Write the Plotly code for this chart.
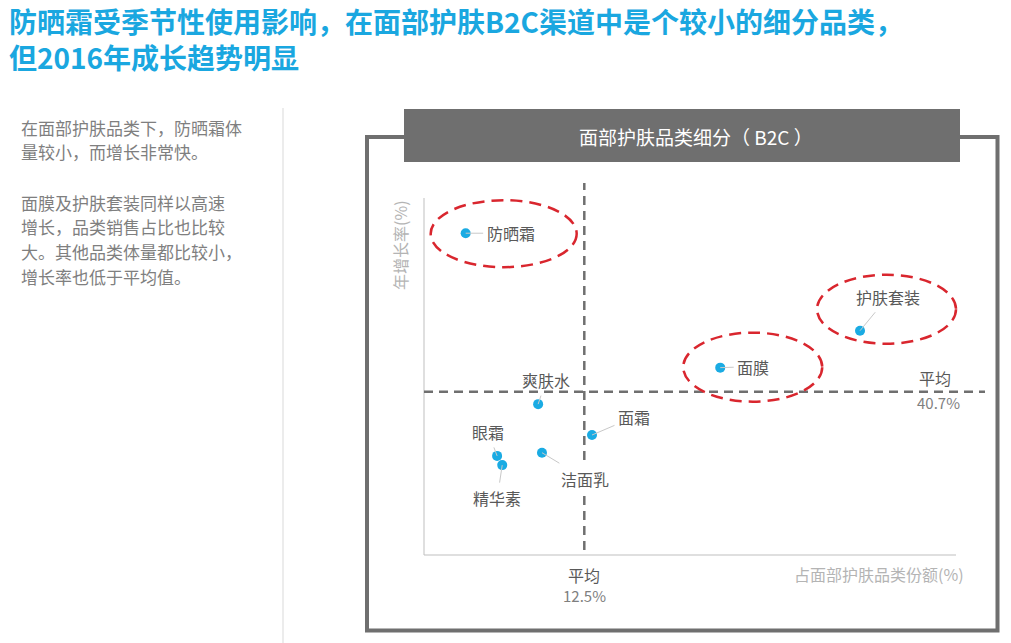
import plotly.graph_objects as go

# categories: share of facial skincare (%) vs annual growth (%)
categories = ['防晒霜', '护肤套装', '面膜', '爽肤水', '面霜', '眼霜', '精华素', '洁面乳']
share = [3.25, 34.0, 23.1, 8.9, 13.1, 5.7, 6.1, 9.2]
growth = [80.2, 55.9, 46.7, 37.6, 29.9, 24.7, 22.4, 25.5]
highlighted = ['防晒霜', '护肤套装', '面膜']

avg_share = 12.5
avg_growth = 40.7

title_lines = ['防晒霜受季节性使用影响，在面部护肤B2C渠道中是个较小的细分品类，',
               '但2016年成长趋势明显']
note_lines = [['在面部护肤品类下，防晒霜体', '量较小，而增长非常快。'],
              ['面膜及护肤套装同样以高速', '增长，品类销售占比也比较',
               '大。其他品类体量都比较小，', '增长率也低于平均值。']]
chart_title = '面部护肤品类细分（ B2C ）'
x_title = '占面部护肤品类份额(%)'
y_title = '年增长率(%)'
avg_label = '平均'

W, H = 1011, 643
L, R, T, B = 424, 990, 180, 555   # plot area in pixels
FONT = 'Noto Sans CJK SC'
CYAN = '#1aa7e0'
DARK = '#595959'
GREY = '#6f6f6f'


def px(x):
    return (x - L) / (R - L)


def py(y):
    return (B - y) / (B - T)


# label offsets (pixels, text centre relative to point)
label_offset = {
    '防晒霜': (45, 0), '护肤套装': (28, -34), '面膜': (33, -1), '爽肤水': (8, -24),
    '面霜': (42, -18), '眼霜': (-9, -24), '精华素': (-5, 33), '洁面乳': (43, 26),
}
label_bg = ['洁面乳']  # sits on the average line, masks it
# highlight ellipse extents around point (pixels: left, right, bottom, top)
ellipse_box = {
    '防晒霜': (-35, 111, -34, 33),
    '护肤套装': (-43, 96, -13, 56),
    '面膜': (-37, 102, -34, 35),
}

fig = go.Figure()
fig.add_trace(go.Scatter(x=share, y=growth, mode='markers', hoverinfo='skip',
                         marker=dict(color='#1aabe3', size=10)))

shapes = []
# outer frame and header box
shapes.append(dict(type='rect', xref='paper', yref='paper', x0=px(367), x1=px(997.5), y0=py(630.5), y1=py(137),
                   line=dict(color=GREY, width=4), fillcolor='rgba(0,0,0,0)'))
shapes.append(dict(type='rect', xref='paper', yref='paper', x0=px(404), x1=px(960), y0=py(162), y1=py(109),
                   line=dict(width=0), fillcolor=GREY))
# left separator
shapes.append(dict(type='line', xref='paper', yref='paper', x0=px(283), x1=px(283), y0=py(643), y1=py(108),
                   line=dict(color='#d9d9d9', width=1)))
# axis lines
shapes.append(dict(type='line', xref='paper', yref='paper', x0=0, x1=px(956), y0=0, y1=0,
                   line=dict(color='#bfbfbf', width=1)))
shapes.append(dict(type='line', xref='paper', yref='paper', x0=0, x1=0, y0=0, y1=py(198),
                   line=dict(color='#bfbfbf', width=1)))
# average lines
shapes.append(dict(type='line', xref='x', yref='paper', x0=avg_share, x1=avg_share, y0=py(550), y1=py(183),
                   line=dict(color=GREY, width=2.5, dash='9px,6px')))
shapes.append(dict(type='line', xref='paper', yref='y', x0=0, x1=px(985), y0=avg_growth, y1=avg_growth,
                   line=dict(color=GREY, width=2.5, dash='9px,6px')))
# highlight ellipses
for name in highlighted:
    i = categories.index(name)
    x0, x1, y0, y1 = ellipse_box[name]
    shapes.append(dict(type='circle', xref='x', yref='y', xsizemode='pixel', ysizemode='pixel',
                       xanchor=share[i], yanchor=growth[i], x0=x0, x1=x1, y0=y0, y1=y1,
                       line=dict(color='#d9262e', width=2.5, dash='12px,7px')))

ann = []
for i, name in enumerate(categories):
    dx, dy = label_offset[name]
    ann.append(dict(x=share[i], y=growth[i], xref='x', yref='y', text=name, showarrow=True,
                    ax=dx, ay=dy, arrowhead=0, arrowwidth=1, arrowcolor='#c8c8c8', standoff=0,
                    bgcolor='white' if name in label_bg else 'rgba(0,0,0,0)', borderpad=3,
                    font=dict(family=FONT, size=16, color=DARK)))


def label(x, y, text, size, color, xanchor='center', **kw):
    ann.append(dict(x=x, y=y, xref=kw.pop('xref', 'paper'), yref=kw.pop('yref', 'paper'), text=text,
                    showarrow=False, xanchor=xanchor, yanchor='middle', align=xanchor if xanchor != 'center' else 'center',
                    font=dict(family=FONT, size=size, color=color, weight=kw.pop('weight', 'normal')), **kw))


# title (two lines in one block)
label(px(7), py(38.5), '<br>'.join(title_lines), 28, CYAN, 'left', weight='bold')

# side notes
note_y = [[128, 151], [202, 226, 251, 276]]
for para, ys in zip(note_lines, note_y):
    for line, yy in zip(para, ys):
        label(px(19), py(yy), line, 17, '#7f7f7f', 'left')

label(px(696), py(136), chart_title, 19, 'white')

# axis titles
label(px(400), py(245), y_title, 16, '#b4b4b4', textangle=-90)
label(px(879), py(574), x_title, 16, '#b4b4b4')

# average labels
label(avg_share, py(575), avg_label, 16, DARK, xref='x')
label(avg_share, py(595), f'{avg_share}%', 15, '#7f7f7f', xref='x')
label(px(935), avg_growth, avg_label, 16, DARK, yref='y', yshift=14)
label(px(938), avg_growth, f'{avg_growth}%', 15, '#7f7f7f', yref='y', yshift=-11)

x_max = (R - L) / ((584.3 - L) / avg_share)
y_max = (B - T) / ((B - 391.7) / avg_growth)

fig.update_layout(
    width=W, height=H,
    margin=dict(l=L, r=W - R, t=T, b=H - B),
    paper_bgcolor='white', plot_bgcolor='white',
    showlegend=False,
    xaxis=dict(range=[0, x_max], visible=False, fixedrange=True),
    yaxis=dict(range=[0, y_max], visible=False, fixedrange=True),
    shapes=shapes, annotations=ann,
)

fig.write_html('out.html', config={'displayModeBar': False},
               post_script="document.body.style.margin='0';")
